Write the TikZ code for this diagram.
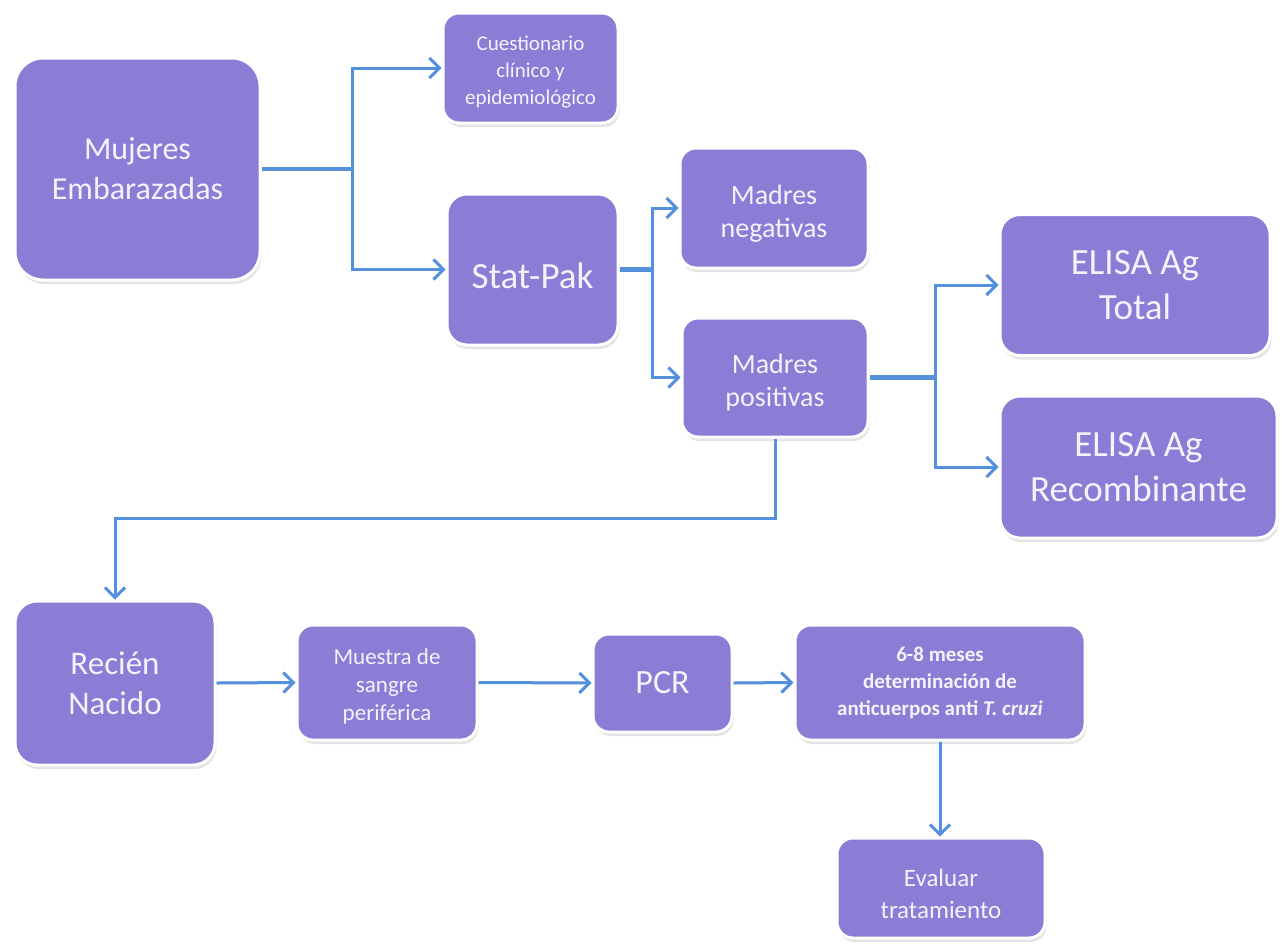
\documentclass[tikz,border=0pt]{standalone}
\usepackage{fontspec}
\setmainfont{Carlito}
\usetikzlibrary{arrows.meta,shadows}
\definecolor{boxfill}{RGB}{139,125,214}
\definecolor{boxtext}{RGB}{244,242,252}
\definecolor{conn}{RGB}{84,144,222}
\tikzset{
  box/.style={rectangle, rounded corners=16pt, fill=boxfill, draw=white, line width=3pt,
    text=boxtext, align=center, inner sep=4pt,
    drop shadow={fill=black!30, opacity=0.35, shadow xshift=1.5pt, shadow yshift=-4pt}},
  conline/.style={draw=conn, line width=3pt},
  arr/.style={conline, -{Straight Barb[length=10pt,width=20pt,line width=3pt]}},
  fs/.style 2 args={font=\fontsize{#1}{#2}\selectfont},
  fsb/.style 2 args={font=\fontsize{#1}{#2}\selectfont\bfseries}
}
\begin{document}
\begin{tikzpicture}[x=1pt,y=-1pt]
\useasboundingbox (0,0) rectangle (1282,948);
\fill[white] (0,0) rectangle (1282,948);

\node[box, rounded corners=28pt, minimum width=245pt, minimum height=222pt, fs={32}{40}] (mujeres) at (137.5,169) {Mujeres\\Embarazadas};
\node[box, minimum width=175pt, minimum height=110pt, fs={21}{27}] (cuest) at (530.5,68) {\rule{0pt}{22pt}Cuestionario\\clínico y\\epidemiológico};
\node[box, rounded corners=20pt, minimum width=171pt, minimum height=151pt, fs={37}{44}] (stat) at (532.5,269.5) {\rule{0pt}{38pt}Stat-Pak};
\node[box, minimum width=188pt, minimum height=120pt, fs={28}{33}] (neg) at (774,208) {\rule{0pt}{30pt}Madres\\negativas};
\node[box, minimum width=186pt, minimum height=119pt, fs={28}{33}] (pos) at (775,377.5) {\rule{0pt}{30pt}Madres\\positivas};
\node[box, rounded corners=20pt, minimum width=270pt, minimum height=141pt, fs={37}{45}] (etotal) at (1135,285) {ELISA Ag\\Total};
\node[box, rounded corners=20pt, minimum width=277pt, minimum height=142pt, fs={37}{45}] (erec) at (1138.5,467) {ELISA Ag\\Recombinante};
\node[box, rounded corners=22pt, minimum width=200pt, minimum height=164pt, fs={33}{40}] (recien) at (115,683) {Recién\\Nacido};
\node[box, minimum width=180pt, minimum height=115pt, fs={23}{28}] (muestra) at (387,682.5) {\rule{0pt}{24pt}Muestra de\\sangre\\periférica};
\node[box, minimum width=139pt, minimum height=98pt, fs={34}{40}] (pcr) at (662.5,683) {PCR};
\node[box, minimum width=290pt, minimum height=115pt, fsb={21}{27}] (meses) at (940,682.5) {6-8 meses\\determinación de\\anticuerpos anti \textit{T. cruzi}};
\node[box, minimum width=208pt, minimum height=100pt, fs={25}{32}] (evaluar) at (941,888) {\rule{0pt}{30pt}Evaluar\\tratamiento};

\coordinate (j1) at (352,169);
\coordinate (j2) at (652,269.5);
\coordinate (j3) at (935,377.5);
\coordinate (j4) at (0,518);

\draw[conline, line width=4.5pt] (mujeres.east) -- (j1);
\draw[arr] (j1) |- (cuest.west);
\draw[arr] (j1) |- (stat.west);

\draw[conline, line width=4.5pt] (stat.east) -- (j2);
\draw[arr] (j2) |- (neg.west);
\draw[arr] (j2) |- (pos.west);

\draw[conline, line width=4.5pt] (pos.east) -- (j3);
\draw[arr] (j3) |- (etotal.west);
\draw[arr] (j3) |- (erec.west);

\draw[arr] (pos.south) -- (pos.south |- j4) -| (recien.north);

\draw[arr] (recien.east) -- (muestra.west);
\draw[arr] (muestra.east) -- (pcr.west);
\draw[arr] (pcr.east) -- (meses.west);
\draw[arr] (meses.south) -- (meses.south |- evaluar.north);
\end{tikzpicture}
\end{document}
